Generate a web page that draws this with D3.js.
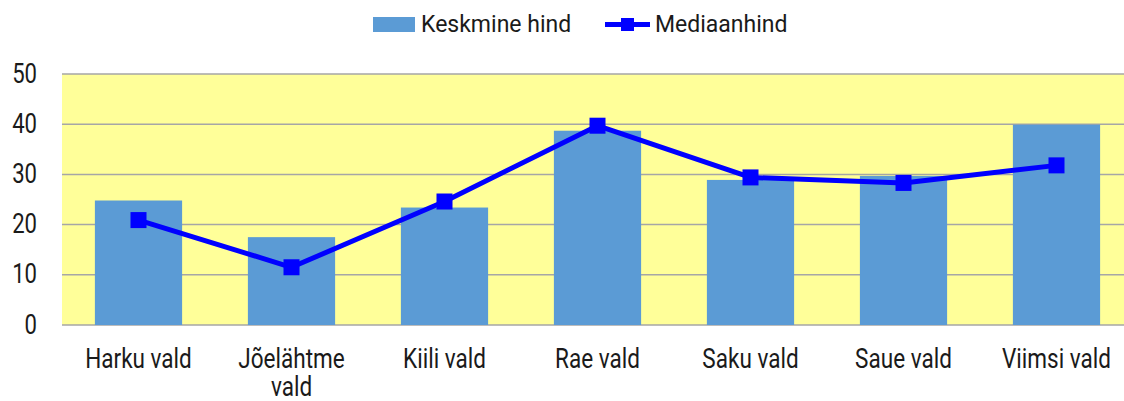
<!DOCTYPE html>
<html>
<head>
<meta charset="utf-8">
<script src="https://cdn.jsdelivr.net/npm/d3@7"></script>
<style>
  body { margin: 0; background: #fff; }
  text { font-family: Roboto, "Noto Sans", sans-serif; fill: #1a1a1a; }
</style>
</head>
<body>
<div id="chart-area"></div>
<script>
// data
const categories = ["Harku vald", "Jõelähtme vald", "Kiili vald", "Rae vald", "Saku vald", "Saue vald", "Viimsi vald"]
const keskmine = [24.8, 17.5, 23.4, 38.7, 28.9, 29.7, 39.9]
const mediaan = [20.9, 11.5, 24.6, 39.7, 29.4, 28.3, 31.8]
const yTicks = [0, 10, 20, 30, 40, 50]

const width = 1124, height = 401
const margin = {top: 74, right: -9, bottom: 76, left: 62}
// the labels in the original are a narrow face, squeeze Roboto a bit
const squeeze = 0.82

const svg = d3.select("#chart-area").append("svg")
  .attr("width", width)
  .attr("height", height)

const x = d3.scaleBand()
  .domain(categories)
  .range([margin.left, width - margin.right])
  .paddingInner(0.43)
  .paddingOuter(0.215)

const y = d3.scaleLinear()
  .domain([0, 50])
  .range([height - margin.bottom, margin.top])

// plot background
svg.append("rect")
  .attr("x", margin.left)
  .attr("y", y(50))
  .attr("width", width - margin.right - margin.left)
  .attr("height", y(0) - y(50))
  .attr("fill", "#FFFF99")

// grid lines
svg.selectAll(".grid")
  .data(yTicks)
  .enter().append("line")
  .attr("x1", margin.left)
  .attr("x2", width - margin.right)
  .attr("y1", d => y(d))
  .attr("y2", d => y(d))
  .attr("stroke", "#A6A6A6")
  .attr("stroke-width", 1.5)

// y axis labels
const yAxis = svg.append("g")
  .attr("transform", `translate(${margin.left}, 0)`)
  .call(d3.axisLeft(y).tickValues(yTicks).tickSize(0))
yAxis.select(".domain").remove()
yAxis.selectAll("text")
  .style("font-size", "27px")
  .attr("fill", "#1a1a1a")
  .attr("x", -25 / squeeze)
  .attr("dy", "0.3em")
  .attr("transform", `scale(${squeeze},1)`)

// bars
svg.selectAll(".bar")
  .data(keskmine)
  .enter().append("rect")
  .attr("x", (d, i) => x(categories[i]))
  .attr("y", d => y(d))
  .attr("width", x.bandwidth())
  .attr("height", d => y(0) - y(d))
  .attr("fill", "#5B9BD5")

// median line
const cx = i => x(categories[i]) + x.bandwidth() / 2
const line = d3.line()
  .x((d, i) => cx(i))
  .y(d => y(d))

svg.append("path")
  .datum(mediaan)
  .attr("d", line)
  .attr("fill", "none")
  .attr("stroke", "#0000FF")
  .attr("stroke-width", 5)
  .attr("stroke-linejoin", "round")

svg.selectAll(".marker")
  .data(mediaan)
  .enter().append("rect")
  .attr("x", (d, i) => cx(i) - 8)
  .attr("y", d => y(d) - 8)
  .attr("width", 16)
  .attr("height", 16)
  .attr("fill", "#0000FF")

// x labels (wrapped like the original)
const xLabels = svg.selectAll(".xlabel")
  .data(categories)
  .enter().append("text")
  .attr("text-anchor", "middle")
  .style("font-size", "27.5px")
  .attr("transform", (d, i) => `translate(${cx(i)}, 368) scale(${squeeze},1)`)

xLabels.each(function(d) {
  const lines = d === "Jõelähtme vald" ? ["Jõelähtme", "vald"] : [d]
  d3.select(this).selectAll("tspan")
    .data(lines)
    .enter().append("tspan")
    .attr("x", 0)
    .attr("dy", (l, j) => j === 0 ? 0 : 28)
    .text(l => l)
})

// legend
svg.append("rect")
  .attr("x", 373).attr("y", 17)
  .attr("width", 42).attr("height", 15)
  .attr("fill", "#5B9BD5")
svg.append("text")
  .attr("x", 421).attr("y", 32)
  .style("font-size", "23px")
  .text("Keskmine hind")
svg.append("line")
  .attr("x1", 605).attr("x2", 650)
  .attr("y1", 24.5).attr("y2", 24.5)
  .attr("stroke", "#0000FF")
  .attr("stroke-width", 5)
svg.append("rect")
  .attr("x", 621).attr("y", 18)
  .attr("width", 13).attr("height", 13)
  .attr("fill", "#0000FF")
svg.append("text")
  .attr("x", 655).attr("y", 32)
  .style("font-size", "23px")
  .text("Mediaanhind")
</script>
</body>
</html>
